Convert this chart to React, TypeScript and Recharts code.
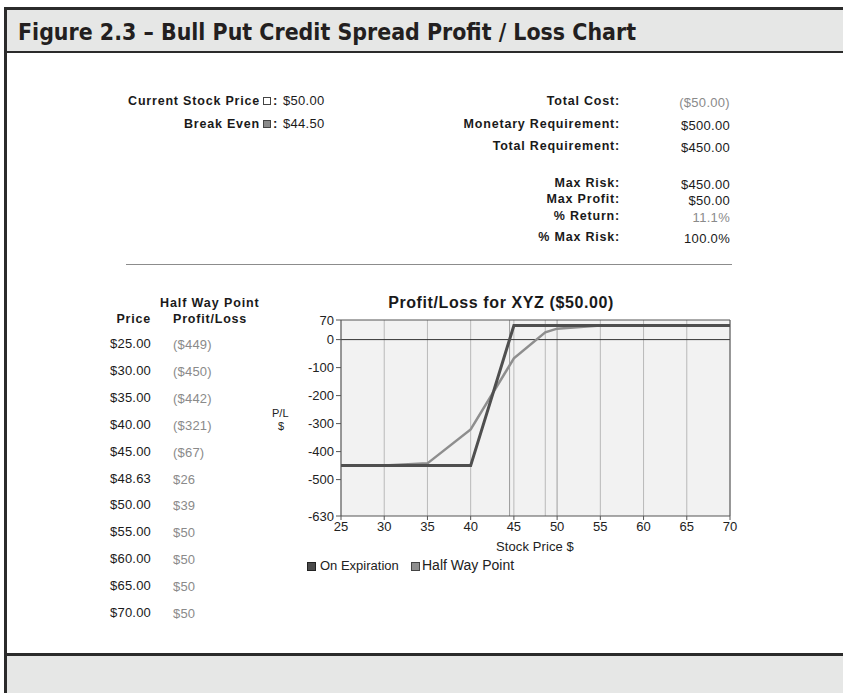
import React from "react";
import {
  LineChart,
  Line,
  XAxis,
  YAxis,
  CartesianGrid,
  ReferenceLine,
} from "recharts";

// table / half way series
const prices = [25, 30, 35, 40, 45, 48.63, 50, 55, 60, 65, 70];
const halfWayPL = [-449, -450, -442, -321, -67, 26, 39, 50, 50, 50, 50];

// on expiration series
const expirationPrices = [25, 40, 45, 70];
const expirationPL = [-450, -450, 50, 50];

const xTicks = [25, 30, 35, 40, 45, 50, 55, 60, 65, 70];
const yTicks = [70, 0, -100, -200, -300, -400, -500, -630];

const currentPrice = 50;
const breakEven = 44.5;

const statLabels = [
  "Total Cost:",
  "Monetary Requirement:",
  "Total Requirement:",
  "Max Risk:",
  "Max Profit:",
  "% Return:",
  "% Max Risk:",
];
const statValues = ["($50.00)", "$500.00", "$450.00", "$450.00", "$50.00", "11.1%", "100.0%"];
const statMuted = [true, false, false, false, false, true, false];

const halfData = prices.map((p, i) => ({ price: p, pl: halfWayPL[i] }));
const expData = expirationPrices.map((p, i) => ({ price: p, pl: expirationPL[i] }));

const fmtMoney = (v: number) => (v < 0 ? `($${Math.abs(v)})` : `$${v}`);

const FONT = "'Liberation Sans', Arial, sans-serif";
const DARK = "#2b2b2b";
const MUTED = "#8a8a8a";

function Txt({
  x,
  y,
  w = 200,
  align = "left",
  bold = false,
  size = 13,
  ls = 0.3,
  color = "#1a1a1a",
  children,
}: any) {
  let left = x;
  if (align === "right") left = x - w;
  if (align === "center") left = x - w / 2;
  return (
    <div
      style={{
        position: "absolute",
        left,
        top: y - 8,
        width: w,
        height: 16,
        lineHeight: "16px",
        textAlign: align,
        fontWeight: bold ? 700 : 400,
        fontSize: size,
        letterSpacing: ls,
        color,
        whiteSpace: "nowrap",
      }}
    >
      {children}
    </div>
  );
}

function Box({ x, y, fill }: any) {
  return (
    <div
      style={{
        position: "absolute",
        left: x,
        top: y - 4,
        width: 6,
        height: 6,
        border: "1px solid #444",
        background: fill,
      }}
    />
  );
}

function PLChart() {
  const tick = { fill: "#222", fontSize: 13, fontFamily: FONT };
  return (
    <LineChart
      width={480}
      height={230}
      margin={{ top: 10, right: 20, bottom: 4, left: 31 }}
      style={{ position: "absolute", left: 270, top: 310 }}
    >
      <CartesianGrid horizontal={false} stroke="#b9b9b9" fill="#f2f2f2" />
      <XAxis
        type="number"
        dataKey="price"
        domain={[25, 70]}
        ticks={xTicks}
        interval={0}
        allowDataOverflow
        height={20}
        tickSize={4}
        stroke="#555"
        tick={tick}
      />
      <YAxis
        type="number"
        dataKey="pl"
        domain={[-630, 70]}
        ticks={yTicks}
        interval={0}
        allowDataOverflow
        width={40}
        tickSize={5}
        stroke="#555"
        tick={tick}
      />
      <ReferenceLine x={breakEven} stroke="#9a9a9a" />
      <ReferenceLine x={48.63} stroke="#b9b9b9" />
      <ReferenceLine x={currentPrice} stroke="#b9b9b9" />
      <ReferenceLine y={0} stroke="#333" />
      <ReferenceLine y={70} stroke="#555" />
      <ReferenceLine x={70} stroke="#555" />
      <Line
        data={halfData}
        dataKey="pl"
        type="linear"
        stroke="#8e8e8e"
        strokeWidth={2.5}
        dot={false}
        isAnimationActive={false}
      />
      <Line
        data={expData}
        dataKey="pl"
        type="linear"
        stroke="#4f4f4f"
        strokeWidth={3}
        dot={false}
        isAnimationActive={false}
      />
    </LineChart>
  );
}

export default function App() {
  const statY = [101, 124, 146, 183, 199, 216, 237];
  return (
    <div
      style={{
        position: "absolute",
        left: 0,
        top: 0,
        width: 843,
        height: 693,
        background: "#fff",
        overflow: "hidden",
        fontFamily: FONT,
      }}
    >
      {/* frame */}
      <div style={{ position: "absolute", left: 7, top: 10, width: 836, height: 41, background: "#e6e7e6" }} />
      <div style={{ position: "absolute", left: 4, top: 7, width: 839, height: 3, background: DARK }} />
      <div style={{ position: "absolute", left: 4, top: 51, width: 839, height: 2, background: DARK }} />
      <div style={{ position: "absolute", left: 4, top: 7, width: 3, height: 686, background: DARK }} />
      <div style={{ position: "absolute", left: 7, top: 656, width: 836, height: 37, background: "#e6e7e6" }} />
      <div style={{ position: "absolute", left: 4, top: 653, width: 839, height: 3, background: DARK }} />

      <svg style={{ position: "absolute", left: 18, top: 10 }} width={780} height={41}>
        <text
          x={0}
          y={30}
          fontFamily="'Liberation Sans Narrow', 'DejaVu Sans Condensed', sans-serif"
          fontWeight={600}
          fontSize={23}
          fill="#231f20"
          textLength={618}
          lengthAdjust="spacingAndGlyphs"
        >
          Figure 2.3 – Bull Put Credit Spread Profit / Loss Chart
        </text>
      </svg>

      {/* left stats */}
      <Txt x={260} y={101} align="right" bold size={12.5} ls={0.8}>Current Stock Price</Txt>
      <Box x={263} y={101} fill="#fff" />
      <Txt x={273} y={101} bold>:</Txt>
      <Txt x={283} y={101}>{`$${currentPrice.toFixed(2)}`}</Txt>
      <Txt x={260} y={124} align="right" bold size={12.5} ls={0.8}>Break Even</Txt>
      <Box x={263} y={124} fill="#8a8a8a" />
      <Txt x={273} y={124} bold>:</Txt>
      <Txt x={283} y={124}>{`$${breakEven.toFixed(2)}`}</Txt>

      {/* right stats */}
      {statLabels.map((l, i) => (
        <Txt key={l} x={620} y={statY[i]} align="right" bold size={12.5} ls={0.8}>{l}</Txt>
      ))}
      {statValues.map((v, i) => (
        <Txt key={i} x={730} y={statY[i] + 2} align="right" w={100} color={statMuted[i] ? MUTED : "#1a1a1a"}>
          {v}
        </Txt>
      ))}

      <div style={{ position: "absolute", left: 126, top: 264, width: 606, height: 1, background: "#8c8c8c" }} />

      {/* half way table */}
      <Txt x={160} y={303} bold size={12.5} ls={0.9}>Half Way Point</Txt>
      <Txt x={151} y={319} align="right" bold size={12.5} ls={0.8}>Price</Txt>
      <Txt x={173} y={319} bold size={12.5} ls={0.8}>Profit/Loss</Txt>
      {prices.map((p, i) => (
        <React.Fragment key={p}>
          <Txt x={151} y={344 + i * 26.9} align="right" ls={0.2}>{`$${p.toFixed(2)}`}</Txt>
          <Txt x={173} y={345 + i * 26.9} color={MUTED} ls={0.2}>{fmtMoney(halfWayPL[i])}</Txt>
        </React.Fragment>
      ))}

      {/* chart */}
      <Txt x={501} y={303} w={300} align="center" bold size={16} ls={0.6}>
        Profit/Loss for XYZ ($50.00)
      </Txt>
      <Txt x={272} y={413} w={40} size={11} ls={0} color="#222">P/L</Txt>
      <Txt x={278} y={426} size={11} ls={0} color="#222">$</Txt>
      <PLChart />
      <Txt x={535} y={547} w={300} align="center" color="#222" ls={0.1}>Stock Price $</Txt>

      {/* legend */}
      <div style={{ position: "absolute", left: 307, top: 562, width: 7, height: 7, background: "#4a4a4a", border: "1px solid #222" }} />
      <Txt x={320} y={566} color="#222" ls={0}>On Expiration</Txt>
      <div style={{ position: "absolute", left: 411, top: 562, width: 7, height: 7, background: "#8e8e8e", border: "1px solid #444" }} />
      <Txt x={422} y={565} size={14} color="#222" ls={0}>Half Way Point</Txt>
    </div>
  );
}
